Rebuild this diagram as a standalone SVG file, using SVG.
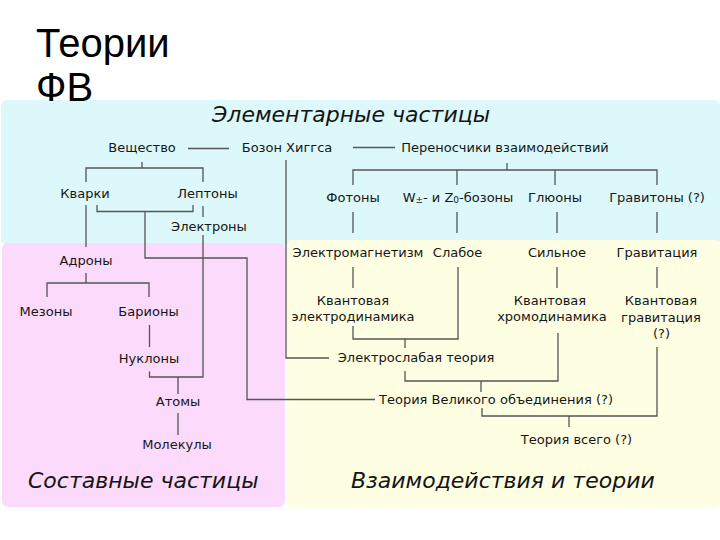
<svg xmlns="http://www.w3.org/2000/svg" width="720" height="540" viewBox="0 0 720 540">
<style>
.t{font-family:"DejaVu Sans",sans-serif;font-size:13px;fill:#161616;text-anchor:middle}
.h{font-family:"DejaVu Sans",sans-serif;font-size:22px;font-style:italic;fill:#141414}
.ttl{font-family:"Liberation Sans",Arial,sans-serif;font-size:40px;fill:#000}
.c{fill:none;stroke:#555;stroke-width:1.3}
</style>
<rect width="720" height="540" fill="#fff"/>
<g id="regions">
<rect x="1" y="100" width="719" height="145" rx="6" fill="#dcf8fa"/>
<rect x="287" y="240" width="433" height="267" rx="5" fill="#fefee2"/>
<rect x="2" y="243" width="283" height="264" rx="6" fill="#fbdafb"/>
</g>
<g id="title">
<text class="ttl" x="36" y="57">Теории</text>
<text class="ttl" x="36" y="101">ФВ</text>
</g>
<g id="headings">
<text class="h" x="212" y="122">Элементарные частицы</text>
<text class="h" x="28" y="487.5">Составные частицы</text>
<text class="h" x="351" y="487.5">Взаимодействия и теории</text>
</g>
<g id="connectors">
<path class="c" d="M188,148.5H229"/>
<path class="c" d="M353,147.5H395"/>
<path class="c" d="M142,162V168M86,182V168H203V182"/>
<path class="c" d="M86,205V247"/>
<path class="c" d="M97,205V211.5H193V205M145,211.5V258H247V399.5H375"/>
<path class="c" d="M203,206V217"/>
<path class="c" d="M203,235V377H149.5V371.5M178,377V394"/>
<path class="c" d="M86,273V283M47,297V283H149V297"/>
<path class="c" d="M149.5,325V347"/>
<path class="c" d="M178,413V435"/>
<path class="c" d="M286,160V358H329"/>
<path class="c" d="M507,163V170M353,185V170H657V185M457,170V185M555,170V185"/>
<path class="c" d="M353,212V233M457,212V233M557,212V233M657,212V233"/>
<path class="c" d="M353,267V288M557,267V288M657,267V288"/>
<path class="c" d="M458,267V339H353V326M405,339V348"/>
<path class="c" d="M405,371V381H558V333M481,381V392"/>
<path class="c" d="M657,347V416H482V408M569,416V427"/>
</g>
<g id="n-veshchestvo"><text class="t" x="142" y="152">Вещество</text></g>
<g id="n-higgs"><text class="t" x="287" y="152">Бозон Хиггса</text></g>
<g id="n-perenoschiki"><text class="t" x="505" y="152">Переносчики взаимодействий</text></g>
<g id="n-kvarki"><text class="t" x="85" y="198">Кварки</text></g>
<g id="n-leptony"><text class="t" x="207.5" y="198">Лептоны</text></g>
<g id="n-elektrony"><text class="t" x="209" y="231">Электроны</text></g>
<g id="n-fotony"><text class="t" x="353" y="202">Фотоны</text></g>
<g id="n-wz"><text class="t" x="458" y="202">W<tspan font-size="9" dy="1">±</tspan><tspan dy="-1">- и Z</tspan><tspan font-size="9" dy="1">0</tspan><tspan dy="-1">-бозоны</tspan></text></g>
<g id="n-glyuony"><text class="t" x="555" y="202">Глюоны</text></g>
<g id="n-gravitony"><text class="t" x="657" y="202">Гравитоны (?)</text></g>
<g id="n-adrony"><text class="t" x="86" y="265">Адроны</text></g>
<g id="n-mezony"><text class="t" x="46" y="316">Мезоны</text></g>
<g id="n-bariony"><text class="t" x="148.5" y="316">Барионы</text></g>
<g id="n-nuklony"><text class="t" x="149" y="363">Нуклоны</text></g>
<g id="n-atomy"><text class="t" x="178" y="406">Атомы</text></g>
<g id="n-molekuly"><text class="t" x="177" y="449">Молекулы</text></g>
<g id="n-em"><text class="t" x="358" y="257">Электромагнетизм</text></g>
<g id="n-slaboe"><text class="t" x="457.5" y="257">Слабое</text></g>
<g id="n-silnoe"><text class="t" x="557" y="257">Сильное</text></g>
<g id="n-gravitaciya"><text class="t" x="657" y="257">Гравитация</text></g>
<g id="n-ked"><text class="t" x="353" y="305">Квантовая</text><text class="t" x="353" y="321">электродинамика</text></g>
<g id="n-khd"><text class="t" x="550" y="305">Квантовая</text><text class="t" x="552" y="321">хромодинамика</text></g>
<g id="n-kg"><text class="t" x="661" y="305">Квантовая</text><text class="t" x="661" y="321.5">гравитация</text><text class="t" x="661.5" y="338">(?)</text></g>
<g id="n-elektroslabaya"><text class="t" x="416" y="362">Электрослабая теория</text></g>
<g id="n-tvo"><text class="t" x="496" y="403.5">Теория Великого объединения (?)</text></g>
<g id="n-tvs"><text class="t" x="576.5" y="444">Теория всего (?)</text></g>
</svg>
